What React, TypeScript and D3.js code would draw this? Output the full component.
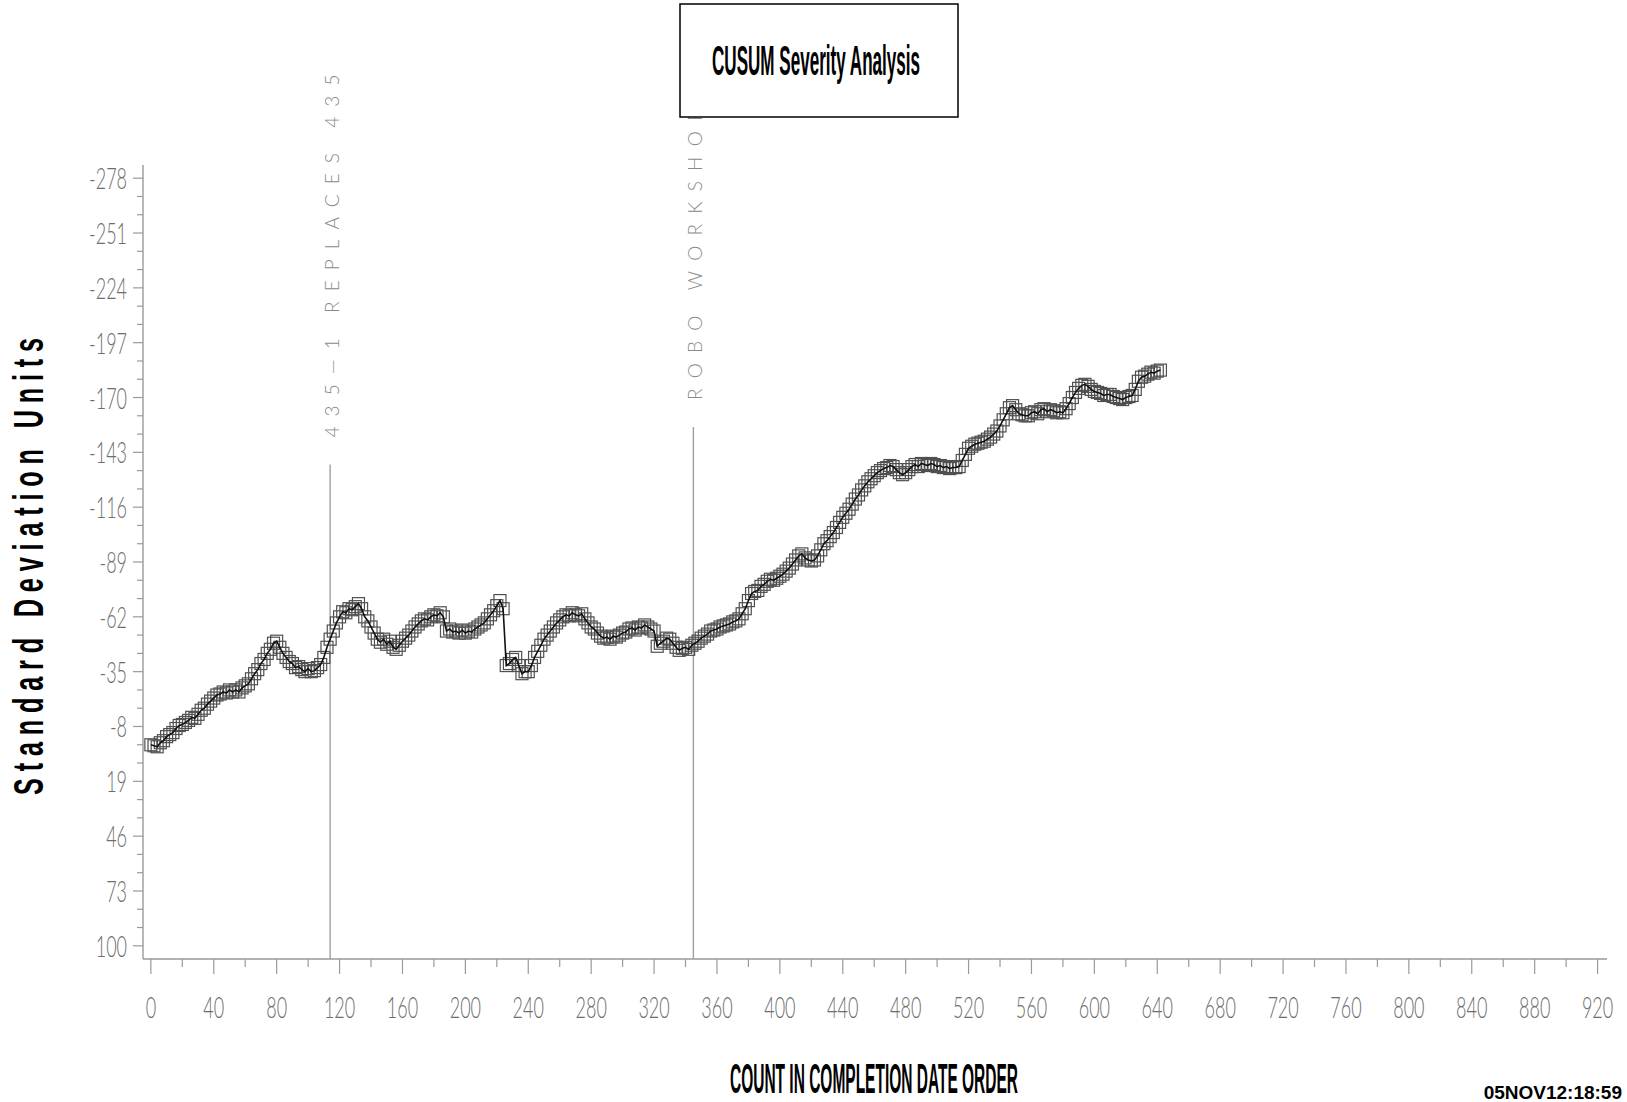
import React from 'react';
import * as d3 from 'd3';

// CUSUM value recorded every COUNT_STEP jobs, in completion-date order
const COUNT_STEP = 2;
const cusumValues: number[] = [
  1, 1.5, 2, 0, -1, -3, -4, -5, -7, -8.5, -9,
  -10, -11, -12.5, -12, -14, -16, -17, -19, -20.5, -22, -23.5,
  -24, -25, -24.5, -26, -25, -26, -25, -27, -28,
  -29, -31.5, -34, -36, -39, -41, -44, -46, -49, -50,
  -47, -44, -42, -40, -39, -37, -37.5, -36, -35, -36.5, -35, -35.5,
  -37, -38.5, -42, -47, -51, -55, -59, -62, -64.5,
  -64, -66, -65.5, -67, -68.5, -66, -62, -60, -57,
  -54, -51, -49.5, -51, -48.5, -50, -47, -46, -48, -50, -51.5,
  -53, -55, -57, -58.5, -60, -61, -60.5, -62, -63, -62.5, -64, -62,
  -55, -56, -54.5, -55, -54, -55.5, -54, -55, -54.5, -56, -57, -58, -59,
  -61, -63, -65, -67.5, -70, -66, -38,
  -39, -41, -42, -38, -34, -35, -35, -38, -42, -45, -48, -51,
  -53, -55, -57, -59, -60.5, -62, -63, -62.5, -64, -63, -62.5, -63.5, -61,
  -59, -57, -56, -54, -52.5, -51.5, -52, -51, -52.5, -52, -53, -54,
  -54.5, -56, -56.5, -55.5, -57, -56.5, -58, -57, -56, -55, -47.5,
  -49, -50, -51.5, -51, -49, -47, -45.5, -46.5, -47, -46, -48, -49,
  -50, -51.5, -52.5, -53.5, -55, -55.5, -56, -57, -57.5, -58, -58.5, -59.5, -60,
  -61, -63.5, -66, -70, -73.5, -74.5, -75, -77, -78, -79.5, -80.5, -80, -81, -82,
  -83, -84.5, -86, -88, -90, -92, -93, -91, -90, -89.5, -90, -92, -95, -98,
  -99.5, -101.5, -103.5, -106, -108.5, -111, -113, -115, -117.5, -120, -122, -124.5, -126.5, -128.5, -130, -131.5, -133, -134,
  -135, -135.5, -136.5, -136, -134.5, -133, -132, -133, -134.5, -136, -137, -136, -137.5, -137, -136.5, -137.5, -137, -136,
  -136.5, -135.5, -136, -135, -135.5, -135.5, -136, -139, -142,
  -145, -146, -147, -147.5, -148, -148.5, -149.5, -150.5, -152, -153.5, -156, -159, -162, -165,
  -166, -164, -162, -161.5, -161, -161, -162.5, -163, -162, -164, -164.5, -163, -164, -163.5, -162.5, -163, -162.5, -164.5, -167, -170, -172.5,
  -174.5, -176, -176.5, -175.5, -174, -173, -172.5, -172, -171, -171.5, -171.5, -170.5, -170, -169.5, -169, -170, -170.5, -171, -174, -178, -180, -180.5, -181.5, -182.5, -182, -183, -183.5,
];

const xTickValues = [0, 40, 80, 120, 160, 200, 240, 280, 320, 360, 400, 440, 480, 520, 560, 600, 640, 680, 720, 760, 800, 840, 880, 920];
const yTickValues = [-278, -251, -224, -197, -170, -143, -116, -89, -62, -35, -8, 19, 46, 73, 100];

// Event reference lines: count where the event happened, top of the line in SD units
const eventCounts = [114, 345];
const eventTops = [-137, -155.5];
const eventLabels = ['435—1 REPLACES 435', 'ROBO WORKSHOP'];
const eventLabelLengths = [363, 290];

const titleText = 'CUSUM Severity Analysis';
const xTitleText = 'COUNT IN COMPLETION DATE ORDER';
const yTitleText = 'Standard Deviation Units';
const stampText = '05NOV12:18:59';

const W = 1627;
const H = 1102;

export default function App() {
  const x = d3.scaleLinear().domain([-5, 926]).range([143, 1607]);
  const y = d3.scaleLinear().domain([-284.5, 106.5]).range([165, 959]);

  const points = cusumValues.map((v, i) => ({ count: i * COUNT_STEP, value: v }));
  const line = d3
    .line<{ count: number; value: number }>()
    .x((d) => x(d.count))
    .y((d) => y(d.value));

  const axisColor = '#9a9a9a';
  const tickText = '#6e6e6e';
  const thinFont = 'Lato, Inter, "Open Sans", sans-serif';
  const boldFont = '"Liberation Sans", Arial, sans-serif';

  const xMinor = d3.range(0, 921, 20);
  const yMinor = d3.range(-278, 101, 9);
  const xAxisY = y.range()[1];
  const yAxisX = x.range()[0];
  const sq = 12;

  return (
    <svg
      width={W}
      height={H}
      viewBox={`0 0 ${W} ${H}`}
      style={{ position: 'absolute', left: 0, top: 0, background: '#fff' }}
    >
      <rect x={0} y={0} width={W} height={H} fill="#fff" />

      {/* axes */}
      <line x1={yAxisX} x2={yAxisX} y1={y.range()[0]} y2={xAxisY} stroke={axisColor} strokeWidth={1.4} />
      <line x1={yAxisX} x2={x.range()[1]} y1={xAxisY} y2={xAxisY} stroke={axisColor} strokeWidth={1.4} />

      {yMinor.map((t) => {
        const major = yTickValues.includes(t);
        return (
          <line key={`ym${t}`} x1={yAxisX - (major ? 10 : 6)} x2={yAxisX} y1={y(t)} y2={y(t)} stroke={axisColor} strokeWidth={1.2} />
        );
      })}
      {yTickValues.map((t) => (
        <g key={`yl${t}`} transform={`translate(127,${y(t) + 11}) scale(0.6,1)`}>
          <text textAnchor="end" fontFamily={thinFont} fontWeight={300} fontSize={30} fill={tickText}>
            {String(t)}
          </text>
        </g>
      ))}

      {xMinor.map((t) => {
        const major = xTickValues.includes(t);
        return (
          <line key={`xm${t}`} x1={x(t)} x2={x(t)} y1={xAxisY} y2={xAxisY + (major ? 15 : 8)} stroke={axisColor} strokeWidth={1.2} />
        );
      })}
      {xTickValues.map((t) => (
        <g key={`xl${t}`} transform={`translate(${x(t)},1018) scale(0.6,1)`}>
          <text textAnchor="middle" fontFamily={thinFont} fontWeight={300} fontSize={30} fill={tickText}>
            {String(t)}
          </text>
        </g>
      ))}

      {/* event reference lines with their labels */}
      {eventCounts.map((c, i) => {
        const top = y(eventTops[i]);
        const labelBottom = top - 27;
        return (
          <g key={`ev${i}`}>
            <line x1={x(c)} x2={x(c)} y1={xAxisY} y2={top} stroke="#a0a0a0" strokeWidth={1.4} />
            <text
              transform={`translate(${x(c) + 9},${labelBottom}) rotate(-90)`}
              fontFamily={thinFont}
              fontWeight={300}
              fontSize={19}
              fill="#8a8a8a"
              textLength={eventLabelLengths[i]}
              lengthAdjust="spacing"
            >
              {eventLabels[i]}
            </text>
          </g>
        );
      })}

      {/* CUSUM markers and path */}
      <g fill="none" stroke="#505050" strokeWidth={1.2}>
        {points.map((d, i) => (
          <rect key={i} x={x(d.count) - sq / 2} y={y(d.value) - sq / 2} width={sq} height={sq} />
        ))}
      </g>
      <path d={line(points) || ''} fill="none" stroke="#111" strokeWidth={1.6} />

      {/* title box */}
      <rect x={680} y={4} width={278} height={113} fill="#fff" stroke="#000" strokeWidth={1.5} />
      <text
        x={816}
        y={75}
        textAnchor="middle"
        fontFamily={boldFont}
        fontWeight="bold"
        fontSize={42}
        fill="#000"
        textLength={208}
        lengthAdjust="spacingAndGlyphs"
      >
        {titleText}
      </text>

      {/* axis titles */}
      <text
        x={874}
        y={1093}
        textAnchor="middle"
        fontFamily={boldFont}
        fontWeight="bold"
        fontSize={42}
        fill="#000"
        textLength={288}
        lengthAdjust="spacingAndGlyphs"
      >
        {xTitleText}
      </text>
      <g transform="translate(43,566.5) rotate(-90) scale(0.6,1)">
        <text
          textAnchor="middle"
          fontFamily={boldFont}
          fontWeight="bold"
          fontSize={42}
          fill="#000"
          textLength={457 / 0.6}
          lengthAdjust="spacing"
        >
          {yTitleText}
        </text>
      </g>

      {/* run timestamp */}
      <text x={1622} y={1099} textAnchor="end" fontFamily={boldFont} fontWeight="bold" fontSize={19} fill="#000">
        {stampText}
      </text>
    </svg>
  );
}
